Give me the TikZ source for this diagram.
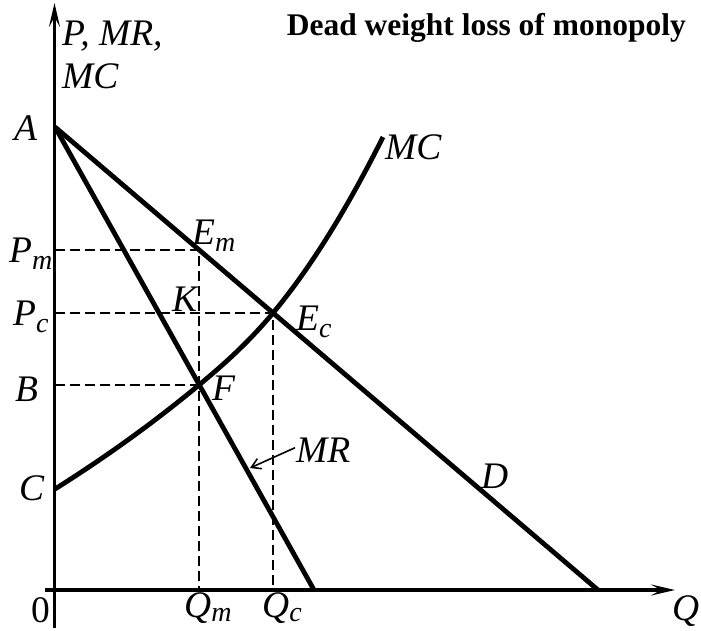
\documentclass[tikz,border=0pt]{standalone}
\usepackage{fontspec}
\setmainfont{Liberation Serif}
\usetikzlibrary{arrows.meta}
\newcommand\sbs[1]{\raisebox{-0.2em}{\fontsize{28}{28}\selectfont #1}}
\newcommand\sbsq[1]{\raisebox{-0.12em}{\fontsize{28}{28}\selectfont #1}}
\begin{document}
\begin{tikzpicture}[x=1pt,y=-1pt,
  lbl/.style={font=\fontsize{37.5}{40}\selectfont\itshape, inner sep=0pt, anchor=base west},
  curve/.style={line width=4.8pt},
  axisline/.style={line width=3.2pt, -{Stealth[length=24pt,width=11pt,inset=10pt]}},
  guide/.style={line width=1.9pt, dash pattern=on 10pt off 5pt},
  ptr/.style={line width=1.6pt, -{Straight Barb[length=9pt,width=11pt]}}]
\useasboundingbox (0,0) rectangle (701,630);
% axes
\coordinate (Ybot) at (54.5,628);
\coordinate (Ytop) at (54.5,3);
\coordinate (Xl) at (45,590);
\coordinate (Xr) at (675,590);
\draw[axisline] (Ybot) -- (Ytop);
\draw[axisline] (Xl) -- (Xr);
% key points
\coordinate (A) at (55,127);
\coordinate (Dend) at (598,590);
\coordinate (MRend) at (314,590);
\coordinate (C) at (55,489);
\coordinate (Em) at (199,250);
\coordinate (Ec) at (273,313);
\coordinate (F) at (199,385);
\coordinate (MCend) at (383,137);
\coordinate (Pm) at (55,250);
\coordinate (Pc) at (55,313);
\coordinate (Bp) at (55,385);
\coordinate (Qm) at (199,590);
\coordinate (Qc) at (273,590);
% guides
\draw[guide] (Pm) -- (Em) -- (Qm);
\draw[guide] (Pc) -- (Ec) -- (Qc);
\draw[guide] (Bp) -- (F);
% curves
\draw[curve] (A) -- (Dend);
\draw[curve] (A) -- (MRend);
\draw[curve] (C) .. controls (103,458.8) and (151,424.8) .. (F)
                 .. controls (223.7,364.5) and (248.3,342.6) .. (Ec)
                 .. controls (309.7,269) and (346.3,210.3) .. (MCend);
% labels
\node[lbl] (ylab1) at (62,45) {P, MR,};
\node[lbl] (ylab2) at (62,88) {MC};
\node[font=\fontsize{31.5}{33}\selectfont\bfseries, inner sep=0pt, anchor=base east] (title) at (686,35) {Dead weight loss of monopoly};
\node[lbl] (lA) at (14,140) {A};
\node[lbl] (lPm) at (9,262) {P\sbs{m}};
\node[lbl] (lPc) at (13,325) {P\sbs{c}};
\node[lbl] (lB) at (15,401) {B};
\node[lbl] (lC) at (19,500) {C};
\node[font=\fontsize{37.5}{40}\selectfont, inner sep=0pt, anchor=base west] (l0) at (31,622) {0};
\node[lbl] (lQm) at (184,617) {Q\sbsq{m}};
\node[lbl] (lQc) at (262,617) {Q\sbsq{c}};
\node[lbl] (lQ) at (672,620) {Q};
\node[lbl] (lEm) at (192,244) {E\sbs{m}};
\node[lbl] (lK) at (172,311) {K};
\node[lbl] (lEc) at (296,330) {E\sbs{c}};
\node[lbl] (lF) at (212,400) {F};
\node[lbl] (lMR) at (296,462) {MR};
\node[lbl] (lD) at (481,488) {D};
\node[lbl] (lMC) at (385,159) {MC};
\coordinate (mrTip) at (250,468);
\draw[ptr] (lMR.west) ++(-1,-2) coordinate (mrStart) (mrStart) -- (mrTip);
\end{tikzpicture}
\end{document}
